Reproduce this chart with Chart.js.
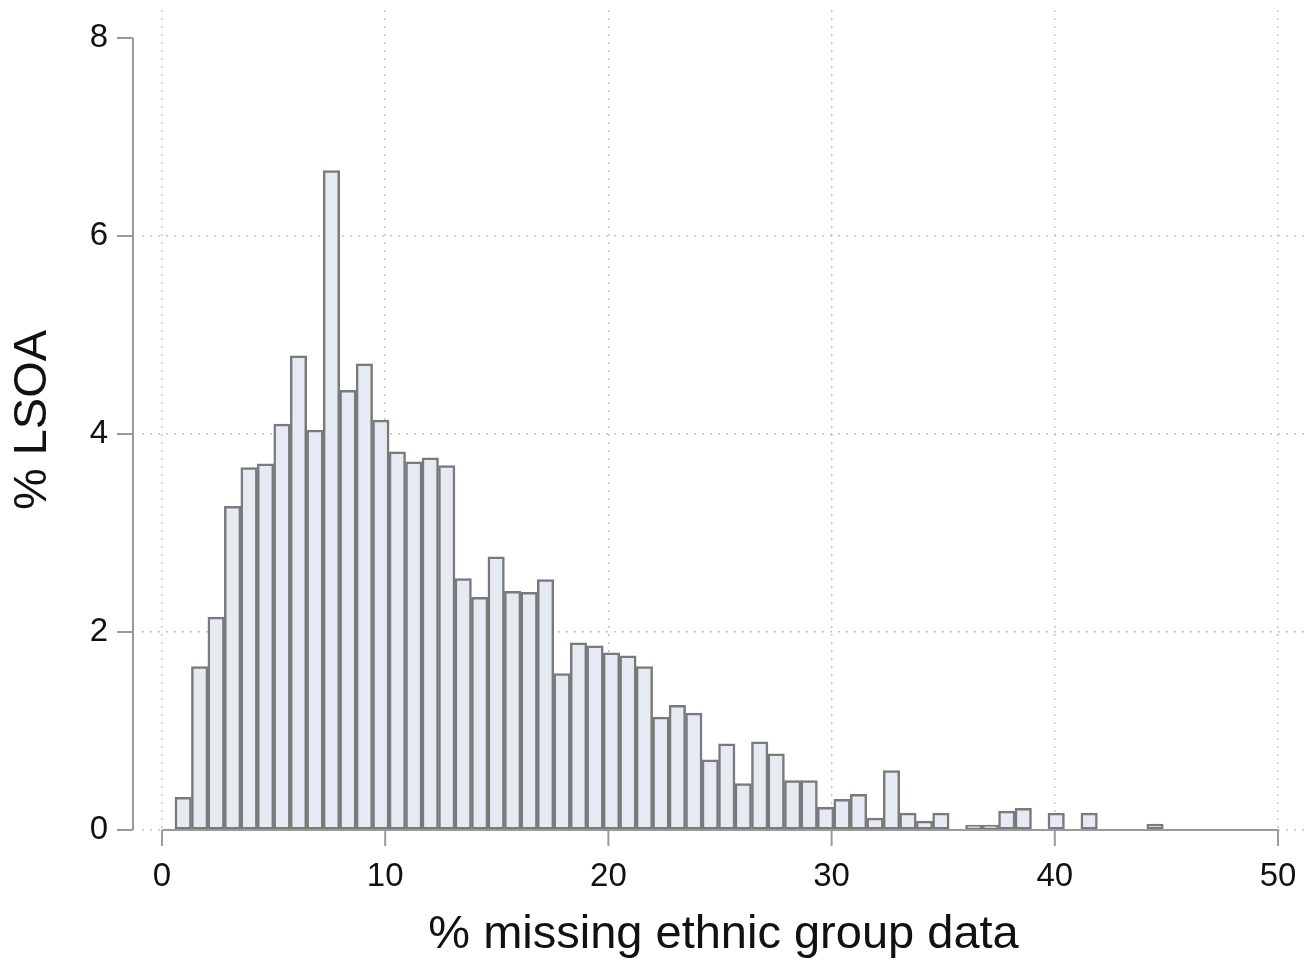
<!DOCTYPE html>
<html>
<head>
<meta charset="utf-8">
<script src="https://cdn.jsdelivr.net/npm/chart.js@4/dist/chart.umd.min.js"></script>
<style>
  html, body { margin: 0; padding: 0; background: #fff; }
  #wrap { width: 1314px; height: 963px; }
</style>
</head>
<body>
<div id="wrap"><canvas id="histChart" width="1314" height="963"></canvas></div>
<script>
// histogram bins: start and width in % missing, heights in % of LSOA
const binStart = 0.58;
const binWidth = 0.738;
const binHeights = [
    0.33, 1.65, 2.15, 3.27, 3.66, 3.70, 4.10, 4.79, 4.04, 6.66,
    4.44, 4.71, 4.14, 3.82, 3.72, 3.76, 3.68, 2.54, 2.35, 2.76,
    2.41, 2.40, 2.53, 1.58, 1.89, 1.86, 1.79, 1.76, 1.65, 1.14,
    1.26, 1.18, 0.71, 0.87, 0.47, 0.89, 0.77, 0.50, 0.50, 0.23,
    0.31, 0.36, 0.12, 0.60, 0.17, 0.09, 0.17, 0, 0.05, 0.05,
    0.19, 0.22, 0, 0.17, 0, 0.17, 0, 0, 0, 0.06
];
const xTicks = [0, 10, 20, 30, 40, 50];
const yTicks = [0, 2, 4, 6, 8];
const xTitle = '% missing ethnic group data';
const yTitle = '% LSOA';

const fontFamily = "'Liberation Sans', Arial, sans-serif";
const axisColor = '#9a9a9a';
const gridColor = '#c4c4c4';

function buildBins() {
    return binHeights.map((h, i) => ({
        x: binStart + binWidth * (i + 0.5),
        y: h
    }));
}

// Stata style axes: y axis pulled left of the plot region, ticks outside
const stataAxes = {
    id: 'stataAxes',
    afterDatasetsDraw(chart) {
        const ctx = chart.ctx;
        const xs = chart.scales.x;
        const ys = chart.scales.y;
        const axX = chart.chartArea.left - 9;
        const y0 = ys.getPixelForValue(yTicks[0]);
        const yTop = ys.getPixelForValue(yTicks[yTicks.length - 1]);
        const x0 = xs.getPixelForValue(xTicks[0]);
        const x1 = xs.getPixelForValue(xTicks[xTicks.length - 1]);

        ctx.save();
        ctx.strokeStyle = axisColor;
        ctx.lineWidth = 2;
        ctx.setLineDash([]);
        ctx.beginPath();
        ctx.moveTo(axX, yTop);
        ctx.lineTo(axX, y0);
        yTicks.forEach(v => {
            const p = ys.getPixelForValue(v);
            ctx.moveTo(axX - 16, p);
            ctx.lineTo(axX, p);
        });
        ctx.moveTo(x0, y0);
        ctx.lineTo(x1, y0);
        xTicks.forEach(v => {
            const p = xs.getPixelForValue(v);
            ctx.moveTo(p, y0);
            ctx.lineTo(p, y0 + 16);
        });
        ctx.stroke();
        ctx.restore();
    }
};

function buildHistogram() {
    const ctx = document.getElementById('histChart').getContext('2d');

    new Chart(ctx, {
        type: 'bar',
        data: {
            datasets: [{
                data: buildBins(),
                backgroundColor: '#e6eaf3',
                borderColor: '#7a7a7a',
                borderWidth: 2.5,
                borderSkipped: false,
                barPercentage: 1,
                categoryPercentage: 1
            }]
        },
        options: {
            responsive: false,
            animation: false,
            layout: { padding: { top: 10, right: 9, left: 0, bottom: 0 } },
            plugins: {
                legend: { display: false },
                tooltip: { enabled: false }
            },
            scales: {
                x: {
                    type: 'linear',
                    offset: false,
                    min: -0.896,
                    max: 51.21,
                    afterBuildTicks: scale => {
                        scale.ticks = xTicks.map(v => ({ value: v }));
                    },
                    afterFit: scale => {
                        scale.height = 133;
                        scale.paddingLeft = 0;
                        scale.paddingRight = 0;
                    },
                    ticks: {
                        padding: 27,
                        color: '#111',
                        font: { family: fontFamily, size: 33 },
                        maxRotation: 0,
                        autoSkip: false
                    },
                    grid: {
                        offset: false,
                        color: gridColor,
                        lineWidth: 1.5,
                        drawTicks: false
                    },
                    border: { display: false, dash: [2, 6] },
                    title: {
                        display: true,
                        text: xTitle,
                        color: '#111',
                        font: { family: fontFamily, size: 47 },
                        padding: { top: 0, bottom: 0 }
                    }
                },
                y: {
                    min: 0,
                    max: 8.283,
                    afterBuildTicks: scale => {
                        scale.ticks = yTicks.map(v => ({ value: v }));
                    },
                    afterFit: scale => {
                        scale.width = 142;
                        scale.paddingTop = 0;
                        scale.paddingBottom = 0;
                    },
                    ticks: {
                        padding: 34,
                        color: '#111',
                        font: { family: fontFamily, size: 33 }
                    },
                    grid: {
                        color: c => (c.tick && c.tick.value === 8) ? 'rgba(0,0,0,0)' : gridColor,
                        lineWidth: 1.5,
                        drawTicks: false
                    },
                    border: { display: false, dash: [2, 6] },
                    title: {
                        display: true,
                        text: yTitle,
                        color: '#111',
                        font: { family: fontFamily, size: 47 },
                        padding: { top: 5, bottom: 0 }
                    }
                }
            }
        },
        plugins: [stataAxes]
    });
}

buildHistogram();
</script>
</body>
</html>
